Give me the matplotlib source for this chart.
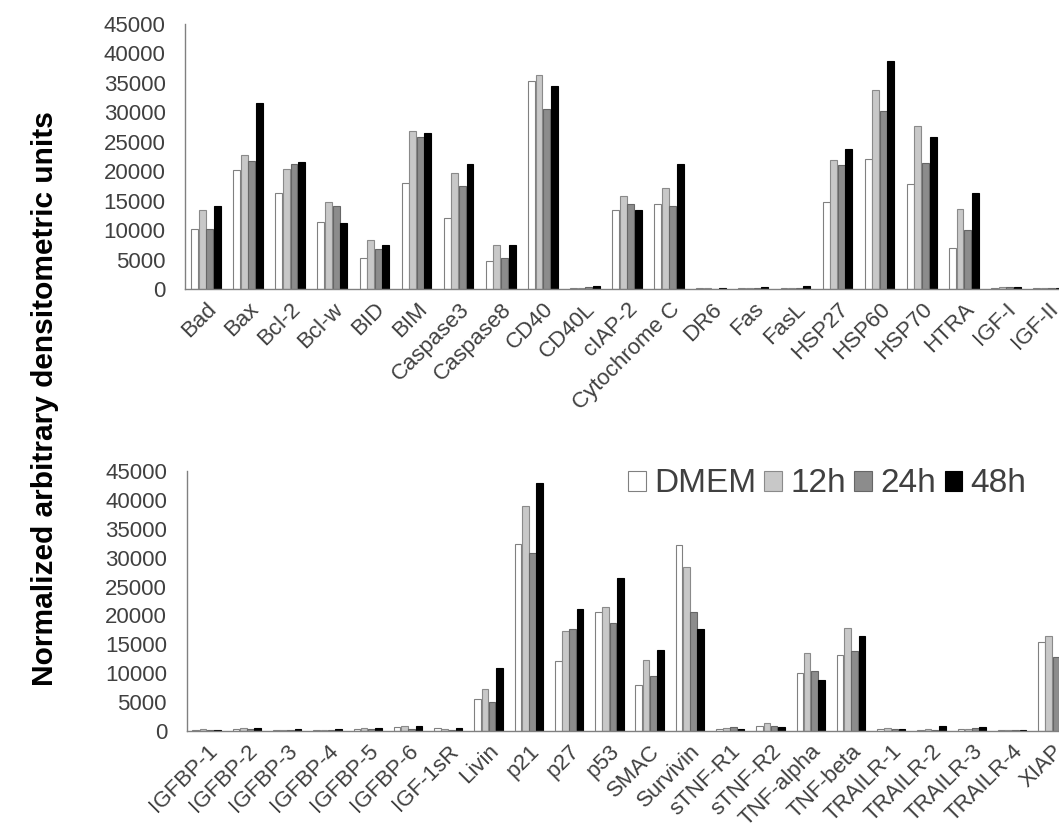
import numpy as np
import matplotlib
matplotlib.use('Agg')
import matplotlib.pyplot as plt
from matplotlib.patches import Patch

plt.rcParams['font.family'] = ['Liberation Sans', 'DejaVu Sans']

series = ['DMEM', '12h', '24h', '48h']

top_names = ['Bad', 'Bax', 'Bcl-2', 'Bcl-w', 'BID', 'BIM', 'Caspase3', 'Caspase8',
             'CD40', 'CD40L', 'cIAP-2', 'Cytochrome C', 'DR6', 'Fas', 'FasL',
             'HSP27', 'HSP60', 'HSP70', 'HTRA', 'IGF-I', 'IGF-II']
top_dmem = [10130, 20200, 16240, 11430, 5320, 17940, 12000, 4700, 35380, 170,
            13360, 14490, 230, 170, 170, 14770, 22020, 17830, 6900, 230, 170]
top_12h = [13360, 22700, 20320, 14770, 8380, 26890, 19640, 7410, 36340, 230,
           15850, 17150, 170, 170, 170, 21850, 33850, 27620, 13530, 400, 110]
top_24h = [10190, 21680, 21170, 14090, 6740, 25750, 17490, 5260, 30560, 280,
           14380, 14090, 60, 230, 110, 21060, 30220, 21450, 10020, 400, 230]
top_48h = [14040, 31580, 21620, 11210, 7410, 26430, 21230, 7470, 34470, 570,
           13360, 21170, 170, 400, 510, 23830, 38770, 25750, 16360, 280, 230]

bot_names = ['IGFBP-1', 'IGFBP-2', 'IGFBP-3', 'IGFBP-4', 'IGFBP-5', 'IGFBP-6',
             'IGF-1sR', 'Livin', 'p21', 'p27', 'p53', 'SMAC', 'Survivin',
             'sTNF-R1', 'sTNF-R2', 'TNF-alpha', 'TNF-beta', 'TRAILR-1',
             'TRAILR-2', 'TRAILR-3', 'TRAILR-4', 'XIAP']
bot_dmem = [115, 350, 230, 230, 350, 630, 520, 5480, 32360, 12060, 20600, 7960,
            32130, 350, 870, 10100, 13100, 290, 170, 350, 230, 15350]
bot_12h = [350, 520, 230, 230, 520, 870, 350, 7330, 38880, 17360, 21400, 12290,
           28380, 520, 1440, 13500, 17830, 520, 350, 350, 230, 16380]
bot_24h = [230, 400, 170, 115, 350, 400, 170, 5080, 30860, 17650, 18630, 9520,
           20600, 630, 920, 10440, 13900, 350, 230, 520, 230, 12750]
bot_48h = [170, 520, 350, 290, 520, 870, 520, 10850, 42860, 21170, 26540, 13960,
           17650, 290, 690, 8770, 16500, 400, 810, 750, 170, 14000]

faces = ['white', '#c8c8c8', '#8c8c8c', 'black']
edges = ['#808080', '#8a8a8a', '#666666', 'black']
txt = '#404040'

W, H = 1059, 826
fig = plt.figure(figsize=(W / 100, H / 100), dpi=100)


def panel(rect, names, data):
    ax = fig.add_axes(rect)
    x = np.arange(len(names))
    step = 0.18
    for k, vals in enumerate(data):
        ax.bar(x + (k - 1.5) * step, vals, width=0.165, color=faces[k],
               edgecolor=edges[k], linewidth=0.8)
    ax.set_xlim(-0.5, len(names) - 0.5)
    ax.set_ylim(0, 45000)
    ax.set_yticks(np.arange(0, 45001, 5000))
    ax.set_xticks(x)
    ax.set_xticklabels(names, rotation=45, ha='right', rotation_mode='anchor',
                       fontsize=16, color=txt)
    ax.tick_params(axis='y', length=0, pad=14, labelsize=16, labelcolor=txt)
    ax.tick_params(axis='x', length=0, pad=7)
    for s in ['top', 'right']:
        ax.spines[s].set_visible(False)
    for s in ['left', 'bottom']:
        ax.spines[s].set_color('#808080')
        ax.spines[s].set_linewidth(1.0)
    return ax


ax1 = panel([185 / W, 1 - 289 / H, 884 / W, 265 / H], top_names,
            [top_dmem, top_12h, top_24h, top_48h])
ax2 = panel([186.5 / W, 1 - 731 / H, 886 / W, 260 / H], bot_names,
            [bot_dmem, bot_12h, bot_24h, bot_48h])

handles = [Patch(facecolor=faces[k], edgecolor=edges[k], linewidth=0.8)
           for k in range(4)]
fig.legend(handles, series, loc='center left',
           bbox_to_anchor=(628 / W, 1 - 484 / H), ncol=4, frameon=False,
           fontsize=24, labelcolor=txt, handlelength=0.53, handleheight=0.53,
           handletextpad=0.25, columnspacing=0.25, borderaxespad=0, borderpad=0)

fig.text(45 / W, 1 - 399 / H, 'Normalized arbitrary densitometric units',
         rotation=90, ha='center', va='center', fontsize=21.5,
         fontweight='bold', color='black')

fig.savefig('out.png', dpi=100)
